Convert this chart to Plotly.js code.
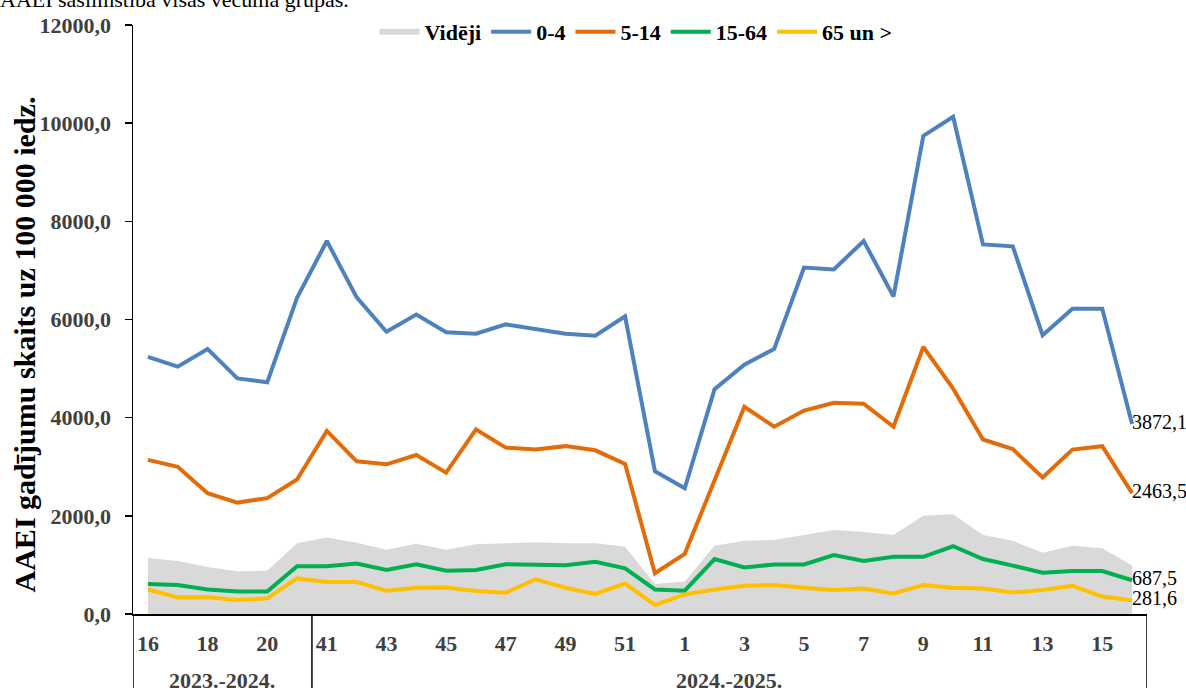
<!DOCTYPE html>
<html>
<head>
<meta charset="utf-8">
<script src="https://cdn.plot.ly/plotly-3.0.1.min.js"></script>
<style>
  html, body { margin: 0; padding: 0; background: #fff; }
  #chart { width: 1186px; height: 688px; }
</style>
</head>
<body>
<div id="chart"></div>
<script>
// ---- data ----
const weeks = ['16','17','18','19','20','21',
  '41','42','43','44','45','46','47','48','49','50','51','52',
  '1','2','3','4','5','6','7','8','9','10','11','12','13','14','15','16'];
const seasons = ['2023.-2024.','2023.-2024.','2023.-2024.','2023.-2024.','2023.-2024.','2023.-2024.',
  '2024.-2025.','2024.-2025.','2024.-2025.','2024.-2025.','2024.-2025.','2024.-2025.','2024.-2025.','2024.-2025.',
  '2024.-2025.','2024.-2025.','2024.-2025.','2024.-2025.','2024.-2025.','2024.-2025.','2024.-2025.','2024.-2025.',
  '2024.-2025.','2024.-2025.','2024.-2025.','2024.-2025.','2024.-2025.','2024.-2025.','2024.-2025.','2024.-2025.',
  '2024.-2025.','2024.-2025.','2024.-2025.','2024.-2025.'];
const seriesNames = ['Vidēji','0-4','5-14','15-64','65 un >'];
const avgAll = [1140,1080,960,870,880,1440,
  1560,1450,1310,1430,1310,1420,1440,1460,1440,1440,1370,610,
  660,1390,1490,1510,1610,1710,1670,1610,2000,2030,1610,1490,1250,1390,1340,990];
const age0_4 = [5240,5040,5400,4800,4720,6440,
  7600,6450,5750,6100,5740,5710,5900,5800,5710,5670,6065,2910,
  2560,4580,5080,5400,7060,7020,7600,6470,9740,10130,7530,7490,5680,6220,6220,3872.1];
const age5_14 = [3140,3000,2460,2270,2360,2740,
  3730,3110,3050,3240,2880,3760,3390,3350,3420,3335,3055,830,
  1225,2720,4220,3815,4145,4305,4285,3815,5440,4590,3555,3360,2780,3350,3420,2463.5];
const age15_64 = [610,590,500,460,460,975,
  975,1030,895,1015,880,895,1015,995,995,1065,930,500,
  475,1120,950,1010,1010,1200,1080,1165,1165,1380,1120,985,840,875,875,687.5];
const age65 = [500,340,340,285,320,725,
  650,650,475,535,540,470,435,705,535,410,620,185,
  400,500,575,590,535,490,520,420,590,535,520,440,490,575,355,281.6];
const yTitle = 'AAEI gadījumu skaits uz 100 000 iedz.';
const topText = 'AAEI saslimstība visās vecuma grupās.';

// ---- layout helpers ----
const W = 1186, H = 688;
const L = 133, R = 1147, T = 24, B = 614;
const pw = R - L, ph = B - T;
const px = x => (x - L) / pw;
const py = y => (B - y) / ph;
const idx = weeks.map((_, i) => i);
const last = weeks.length - 1;
const fmt = v => v.toFixed(1).replace('.', ',');
const serif = 'Liberation Serif, Times New Roman, serif';

function lineTrace(name, vals, color) {
  return {
    x: idx, y: vals, name: name, type: 'scatter', mode: 'lines+text',
    line: {color: color, width: 4},
    text: vals.map((v, i) => i === last ? fmt(v) : ''),
    textposition: 'middle right',
    textfont: {family: serif, size: 20, color: '#000'},
    cliponaxis: false, hoverinfo: 'skip'
  };
}

const traces = [
  {x: idx, y: avgAll, name: seriesNames[0], type: 'scatter', mode: 'none',
   fill: 'tozeroy', fillcolor: '#D9D9D9', hoverinfo: 'skip'},
  lineTrace(seriesNames[1], age0_4, '#4F81BD'),
  lineTrace(seriesNames[2], age5_14, '#E36C0A'),
  lineTrace(seriesNames[3], age15_64, '#00B050'),
  lineTrace(seriesNames[4], age65, '#FFC000')
];

// group spans from seasons
const groups = [];
seasons.forEach((s, i) => {
  if (!groups.length || groups[groups.length - 1].name !== s) groups.push({name: s, start: i, end: i});
  else groups[groups.length - 1].end = i;
});

const shapes = [];
const annotations = [];
const bounds = [-0.5].concat(groups.map(g => g.end + 0.5));
bounds.forEach(b => shapes.push({type: 'line', xref: 'x', yref: 'paper', x0: b, x1: b, y0: 0, y1: -0.25,
  line: {color: '#000', width: 1.5}, layer: 'above'}));
groups.forEach(g => annotations.push({
  xref: 'x', yref: 'paper', x: (g.start + g.end) / 2, y: py(681), text: g.name, showarrow: false,
  xanchor: 'center', yanchor: 'middle', font: {family: serif, size: 22, color: '#404040', weight: 'bold'}
}));
annotations.push({xref: 'paper', yref: 'paper', x: px(24), y: py(344), text: yTitle, textangle: -90,
  showarrow: false, xanchor: 'center', yanchor: 'middle',
  font: {family: serif, size: 30, color: '#000', weight: 'bold'}});
annotations.push({xref: 'paper', yref: 'paper', x: px(-2), y: py(13), text: topText,
  showarrow: false, xanchor: 'left', yanchor: 'bottom',
  font: {family: serif, size: 22, color: '#000'}});

const layout = {
  width: W, height: H,
  margin: {l: L, r: W - R, t: T, b: H - B, pad: 0},
  paper_bgcolor: '#fff', plot_bgcolor: '#fff',
  separators: ', ',
  showlegend: true,
  legend: {orientation: 'h', x: px(636), xanchor: 'center', y: py(32), yanchor: 'middle',
    font: {family: serif, size: 22, color: '#000', weight: 'bold'}, bgcolor: 'rgba(0,0,0,0)',
    itemwidth: 40, tracegroupgap: 0},
  xaxis: {
    range: [-0.5, last + 0.5], showgrid: false, zeroline: false,
    showline: true, linecolor: '#000', linewidth: 1.5,
    tickmode: 'array', tickvals: idx.filter(i => i % 2 === 0),
    ticktext: idx.filter(i => i % 2 === 0).map(i => weeks[i]),
    ticks: 'outside', ticklen: 9, tickcolor: 'rgba(0,0,0,0)',
    tickfont: {family: serif, size: 22, color: '#404040', weight: 'bold'}
  },
  yaxis: {
    range: [0, 12000], dtick: 2000, tickformat: '.1f', showgrid: false, zeroline: false,
    showline: true, linecolor: '#000', linewidth: 1.5,
    ticks: 'outside', ticklen: 7, tickcolor: '#000', tickwidth: 1.5,
    ticklabelstandoff: 9,
    tickfont: {family: serif, size: 22, color: '#404040', weight: 'bold'}
  },
  shapes: shapes,
  annotations: annotations
};

Plotly.newPlot('chart', traces, layout, {staticPlot: true, displayModeBar: false});
</script>
</body>
</html>
